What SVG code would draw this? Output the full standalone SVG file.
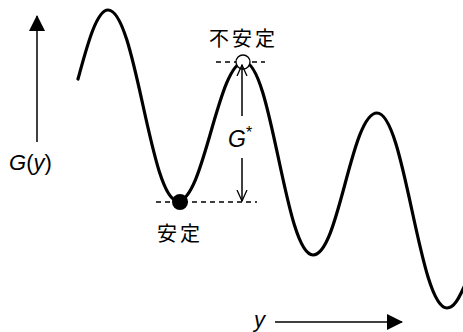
<svg xmlns="http://www.w3.org/2000/svg" width="463" height="332" viewBox="0 0 463 332">
<style>
.curve{fill:none;stroke:#000;stroke-width:3.2;stroke-linecap:round}
.dash{fill:none;stroke:#000;stroke-width:1.3;stroke-dasharray:5 4}
.ln{fill:none;stroke:#000;stroke-width:1.5}
.lat{font-family:"Liberation Sans",Arial,sans-serif;fill:#000}
.it{font-style:italic}
.jp{font-family:"Noto Sans CJK JP","Noto Sans",sans-serif;font-size:20px;fill:#000;letter-spacing:3px}
</style>
<defs>
<marker id="solid" viewBox="0 0 16 16" refX="15" refY="8" markerWidth="16" markerHeight="16" markerUnits="userSpaceOnUse" orient="auto">
<path d="M0,0 L16,8 L0,16 Z" fill="#000"/>
</marker>
<marker id="open" viewBox="0 0 12 12" refX="11" refY="6" markerWidth="12" markerHeight="12" markerUnits="userSpaceOnUse" orient="auto">
<path d="M0,1 L11,6 L0,11" fill="none" stroke="#000" stroke-width="1.3"/>
</marker>
</defs>
<g id="curve">
<path class="curve" d="M78,79 C86,50 96,10 108,10 C136,10 150,201 178,201 C204,201 218,62 244,62 C272,62 285,255 313,255 C339,255 351,113 377,113 C405,113 419,308 447,308 C454,308 459,298 464,287"/>
</g>
<g id="axes">
<line class="ln" x1="37" y1="142" x2="37" y2="16" marker-end="url(#solid)"/>
<text class="lat" x="9" y="170" font-size="22"><tspan class="it">G</tspan>(<tspan class="it">y</tspan>)</text>
<line class="ln" x1="275" y1="322" x2="402" y2="322" marker-end="url(#solid)"/>
<text class="lat it" x="254" y="327" font-size="22">y</text>
</g>
<g id="stable">
<line class="dash" x1="156" y1="202" x2="257" y2="202"/>
<circle cx="180" cy="202" r="8" fill="#000"/>
<text class="jp" x="157" y="241">安定</text>
</g>
<g id="unstable">
<line class="dash" x1="216" y1="62" x2="265" y2="62"/>
<circle cx="243" cy="62" r="7" fill="#fff" stroke="#000" stroke-width="1.3"/>
<text class="jp" x="209" y="46">不安定</text>
</g>
<g id="connectors">
<line class="ln" x1="242" y1="116" x2="242" y2="65" marker-end="url(#open)"/>
<line class="ln" x1="242" y1="158" x2="242" y2="201" marker-end="url(#open)"/>
<text class="lat" x="228" y="147" font-size="23"><tspan class="it">G</tspan><tspan font-size="16" dy="-9">*</tspan></text>
</g>
</svg>
